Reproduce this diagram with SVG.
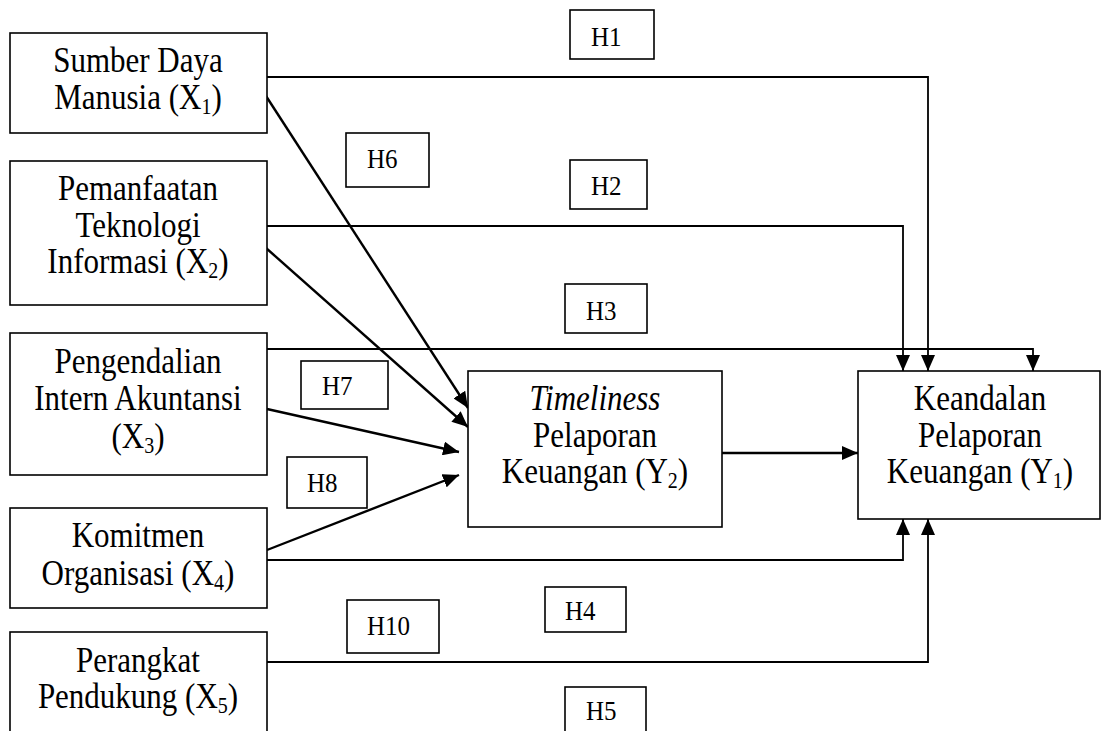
<svg xmlns="http://www.w3.org/2000/svg" width="1102" height="731" viewBox="0 0 1102 731">
<style>
.box{fill:#fff;stroke:#000;stroke-width:1.6}
.t{font-family:"Liberation Serif","Times New Roman",serif;font-size:31px;fill:#000;text-anchor:middle}
.h{font-family:"Liberation Serif","Times New Roman",serif;font-size:25px;fill:#000}
.ln{fill:none;stroke:#000;stroke-width:1.8}
.dg{fill:none;stroke:#000;stroke-width:2.4}
.sub{font-size:20px}
</style>
<defs>
<marker id="ah" markerUnits="userSpaceOnUse" markerWidth="18" markerHeight="14" refX="16" refY="7" orient="auto">
<path d="M0,0 L16,7 L0,14 Z" fill="#000"/>
</marker>
</defs>
<rect width="1102" height="731" fill="#fff"/>
<g id="connectors">
<polyline class="ln" points="267,77 928,77 928,371" marker-end="url(#ah)"/>
<polyline class="ln" points="267,226 903,226 903,371" marker-end="url(#ah)"/>
<polyline class="ln" points="267,349 1033,349 1033,371" marker-end="url(#ah)"/>
<polyline class="ln" points="267,560 903,560 903,519" marker-end="url(#ah)"/>
<polyline class="ln" points="267,662 928,662 928,519" marker-end="url(#ah)"/>
<line class="dg" x1="266" y1="96" x2="468" y2="408" marker-end="url(#ah)"/>
<line class="dg" x1="266" y1="248" x2="468" y2="427" marker-end="url(#ah)"/>
<line class="dg" x1="267" y1="409" x2="459" y2="452" marker-end="url(#ah)"/>
<line class="dg" x1="267" y1="550" x2="459" y2="475" marker-end="url(#ah)"/>
<line class="dg" x1="722" y1="453" x2="858" y2="453" marker-end="url(#ah)"/>
</g>
<g id="x1"><rect class="box" x="10" y="33" width="257" height="100"/>
<text class="t" x="138" y="72" transform="matrix(1,0,0,1.13,0,-9.36)">Sumber Daya</text>
<text class="t" x="138" y="109" transform="matrix(1,0,0,1.13,0,-14.17)">Manusia (X<tspan class="sub" dy="4">1</tspan><tspan dy="-4">)</tspan></text></g>
<g id="x2"><rect class="box" x="10" y="161" width="257" height="144"/>
<text class="t" x="138" y="200" transform="matrix(1,0,0,1.13,0,-26)">Pemanfaatan</text>
<text class="t" x="138" y="237" transform="matrix(1,0,0,1.13,0,-30.81)">Teknologi</text>
<text class="t" x="138" y="273" transform="matrix(1,0,0,1.13,0,-35.49)">Informasi (X<tspan class="sub" dy="4">2</tspan><tspan dy="-4">)</tspan></text></g>
<g id="x3"><rect class="box" x="10" y="333" width="257" height="142"/>
<text class="t" x="138" y="373" transform="matrix(1,0,0,1.13,0,-48.49)">Pengendalian</text>
<text class="t" x="138" y="410" transform="matrix(1,0,0,1.13,0,-53.3)">Intern Akuntansi</text>
<text class="t" x="138" y="448" transform="matrix(1,0,0,1.13,0,-58.24)">(X<tspan class="sub" dy="4">3</tspan><tspan dy="-4">)</tspan></text></g>
<g id="x4"><rect class="box" x="10" y="508" width="257" height="100"/>
<text class="t" x="138" y="547" transform="matrix(1,0,0,1.13,0,-71.11)">Komitmen</text>
<text class="t" x="138" y="585" transform="matrix(1,0,0,1.13,0,-76.05)">Organisasi (X<tspan class="sub" dy="4">4</tspan><tspan dy="-4">)</tspan></text></g>
<g id="x5"><rect class="box" x="10" y="632" width="257" height="130"/>
<text class="t" x="138" y="672" transform="matrix(1,0,0,1.13,0,-87.36)">Perangkat</text>
<text class="t" x="138" y="708" transform="matrix(1,0,0,1.13,0,-92.04)">Pendukung (X<tspan class="sub" dy="4">5</tspan><tspan dy="-4">)</tspan></text></g>
<g id="y2"><rect class="box" x="468" y="371" width="254" height="156"/>
<text class="t" x="595" y="410" font-style="italic" transform="matrix(1,0,0,1.13,0,-53.3)">Timeliness</text>
<text class="t" x="595" y="447" transform="matrix(1,0,0,1.13,0,-58.11)">Pelaporan</text>
<text class="t" x="595" y="483" transform="matrix(1,0,0,1.13,0,-62.79)">Keuangan (Y<tspan class="sub" dy="4">2</tspan><tspan dy="-4">)</tspan></text></g>
<g id="y1"><rect class="box" x="858" y="371" width="242" height="148"/>
<text class="t" x="980" y="410" transform="matrix(1,0,0,1.13,0,-53.3)">Keandalan</text>
<text class="t" x="980" y="447" transform="matrix(1,0,0,1.13,0,-58.11)">Pelaporan</text>
<text class="t" x="980" y="483" transform="matrix(1,0,0,1.13,0,-62.79)">Keuangan (Y<tspan class="sub" dy="4">1</tspan><tspan dy="-4">)</tspan></text></g>
<g id="h1"><rect class="box" x="570" y="10" width="84" height="49"/><text class="h" x="591" y="46" transform="matrix(1,0,0,1.13,0,-5.98)">H1</text></g>
<g id="h2"><rect class="box" x="570" y="160" width="77" height="49"/><text class="h" x="591" y="195" transform="matrix(1,0,0,1.13,0,-25.35)">H2</text></g>
<g id="h3"><rect class="box" x="565" y="284" width="82" height="49"/><text class="h" x="586" y="320" transform="matrix(1,0,0,1.13,0,-41.6)">H3</text></g>
<g id="h4"><rect class="box" x="545" y="587" width="81" height="45"/><text class="h" x="565" y="620" transform="matrix(1,0,0,1.13,0,-80.6)">H4</text></g>
<g id="h5"><rect class="box" x="565" y="687" width="81" height="60"/><text class="h" x="586" y="720" transform="matrix(1,0,0,1.13,0,-93.6)">H5</text></g>
<g id="h6"><rect class="box" x="346" y="133" width="83" height="54"/><text class="h" x="367" y="168" transform="matrix(1,0,0,1.13,0,-21.84)">H6</text></g>
<g id="h7"><rect class="box" x="301" y="361" width="87" height="48"/><text class="h" x="322" y="395" transform="matrix(1,0,0,1.13,0,-51.35)">H7</text></g>
<g id="h8"><rect class="box" x="287" y="457" width="80" height="51"/><text class="h" x="307" y="492" transform="matrix(1,0,0,1.13,0,-63.96)">H8</text></g>
<g id="h10"><rect class="box" x="347" y="600" width="92" height="53"/><text class="h" x="367" y="635" transform="matrix(1,0,0,1.13,0,-82.55)">H10</text></g>
</svg>
